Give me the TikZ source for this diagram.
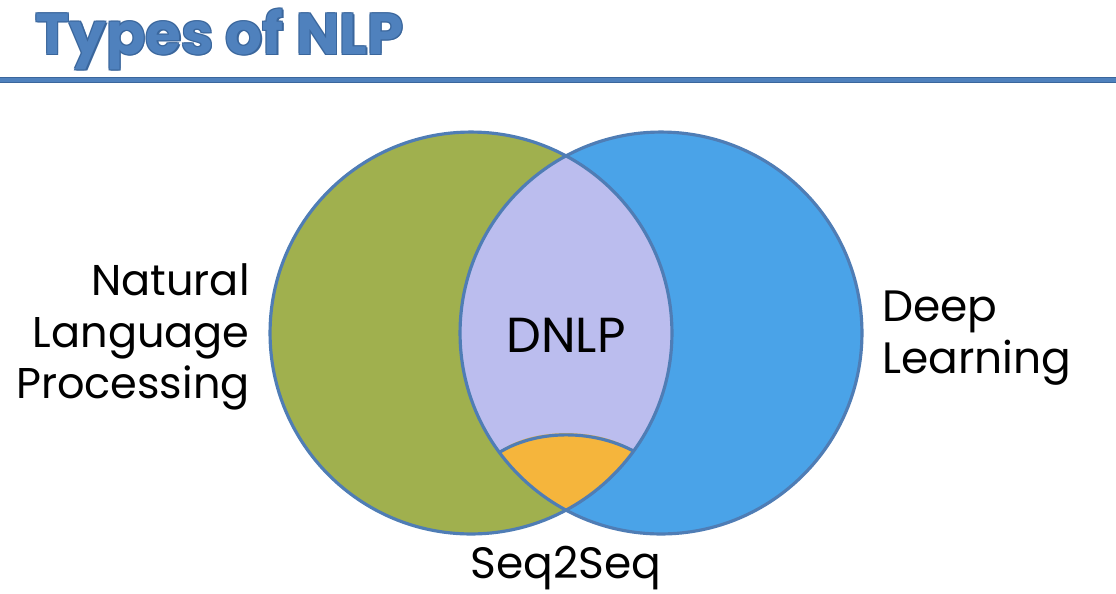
\documentclass[tikz,border=0pt]{standalone}
\usepackage{fontspec}
\setmainfont{Poppins}
\usepackage{tikz}
\usepackage{xcolor}
\usetikzlibrary{positioning, calc}

\definecolor{nlpgreen}{HTML}{A0B04E}
\definecolor{dlblue}{HTML}{4AA3E8}
\definecolor{lenspurple}{HTML}{BBBDEE}
\definecolor{seqorange}{HTML}{F5B53C}
\definecolor{rimblue}{HTML}{4F7DB5}
\definecolor{titleblue}{HTML}{4F81BD}
\definecolor{titledark}{HTML}{3A669C}

\begin{document}
\begin{tikzpicture}[
    x=0.02cm, y=-0.02cm,
    rim/.style={draw=rimblue, line width=1.8pt},
    label/.style={font=\fontsize{25}{29.5}\selectfont, text=black, inner sep=0pt},
    heading/.style={font=\fontsize{33}{38}\selectfont\bfseries, inner sep=0pt, anchor=base west}
]
\useasboundingbox (0,0) rectangle (1116,593);

% title and rule
\foreach \dx/\dy in {-1/-1, 1/-1, -1/1, 1/1, 1.5/1.5}
    \node[heading, text=titledark] at ($(35,54)+(\dx,\dy)$) {Types of NLP};
\node[heading, text=titleblue] (title) at (35,54) {Types of NLP};
\draw[titledark, line width=3pt] (0,80) -- (1116,80);
\draw[titleblue, line width=2pt] (0,80) -- (1116,80);

% circles
\coordinate (nlp) at (471,333);
\coordinate (dl) at (661,333);
\fill[nlpgreen] (nlp) circle[radius=4.02cm];
\fill[dlblue] (dl) circle[radius=4.02cm];
\begin{scope}
    \clip (nlp) circle[radius=4.02cm];
    \fill[lenspurple] (dl) circle[radius=4.02cm];
    \clip (dl) circle[radius=4.02cm];
    \fill[seqorange] (499,452) .. controls (530,427) and (600,427) .. (634,451)
        -- (680,570) -- (450,570) -- cycle;
\end{scope}
\begin{scope}
    \clip (nlp) circle[radius=4.02cm];
    \clip (dl) circle[radius=4.02cm];
    \draw[rim] (490,459) .. controls (530,427) and (600,427) .. (645,458);
\end{scope}
\draw[rim] (nlp) circle[radius=4.02cm];
\draw[rim] (dl) circle[radius=4.02cm];

% labels
\node[label, font=\fontsize{24.5}{29.5}\selectfont, align=right, anchor=east] (nlplabel) at (250,337) {Natural\\Language\\Processing};
\node[label, align=left, anchor=west] (dllabel) at (882,338) {Deep\\Learning};
\node[label, font=\fontsize{28}{32}\selectfont] (dnlp) at (566,335) {DNLP};
\node[label] (seq) at (566,568) {Seq2Seq};
\end{tikzpicture}
\end{document}
